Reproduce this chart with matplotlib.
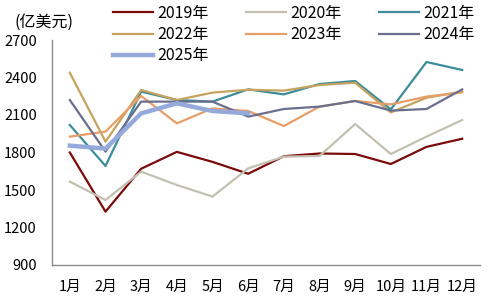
import numpy as np
import matplotlib
matplotlib.use('Agg')
import matplotlib.pyplot as plt

plt.rcParams['font.family'] = ['Noto Sans CJK SC', 'DejaVu Sans']

# 数据 (亿美元)
months = ['1月', '2月', '3月', '4月', '5月', '6月', '7月', '8月', '9月', '10月', '11月', '12月']
y2019 = [1800, 1327, 1670, 1805, 1725, 1630, 1770, 1792, 1788, 1708, 1845, 1910]
y2020 = [1567, 1420, 1647, 1540, 1447, 1673, 1767, 1772, 2028, 1788, 1927, 2060]
y2021 = [2020, 1692, 2287, 2220, 2207, 2305, 2265, 2348, 2372, 2145, 2524, 2460]
y2022 = [2438, 1887, 2300, 2220, 2279, 2302, 2295, 2340, 2358, 2121, 2238, 2287]
y2023 = [1927, 1967, 2252, 2033, 2153, 2132, 2012, 2167, 2212, 2185, 2247, 2281]
y2024 = [2220, 1807, 2207, 2207, 2207, 2087, 2148, 2167, 2212, 2135, 2148, 2305]
y2025 = [1855, 1831, 2113, 2193, 2132, 2113]

series = [
    ('2019年', y2019, '#7B0A0A', 1.6),
    ('2020年', y2020, '#C3C0B2', 1.6),
    ('2021年', y2021, '#3B8D9B', 1.6),
    ('2022年', y2022, '#C6A35E', 1.6),
    ('2023年', y2023, '#E89E68', 1.6),
    ('2024年', y2024, '#6B6F8F', 1.6),
    ('2025年', y2025, '#95AADB', 3.2),
]

fig = plt.figure(figsize=(4.88, 3.01), dpi=100)
ax = fig.add_axes([52/488, 1-265/301, 428/488, 225/301])

x = np.arange(len(months))
lines = {}
for name, vals, color, lw in series:
    ln, = ax.plot(x[:len(vals)], vals, color=color, lw=lw, label=name)
    lines[name] = ln

ax.set_xlim(-0.5, len(months) - 0.5)
ax.set_ylim(900, 2700)
ax.set_yticks(np.arange(900, 2701, 300))
ax.set_xticks(x)
ax.set_xticklabels(months)
ax.tick_params(axis='both', length=0, labelsize=10.5)
ax.tick_params(axis='y', pad=11)
ax.tick_params(axis='x', pad=11)

for s in ['top', 'right']:
    ax.spines[s].set_visible(False)
for s in ['left', 'bottom']:
    ax.spines[s].set_color('#8C8C8C')
    ax.spines[s].set_linewidth(1.0)

fig.text(14/488, 1-22/301, '(亿美元)', fontsize=11.5, va='center', ha='left')

# 图例按行排列
order = ['2019年', '2022年', '2025年', '2020年', '2023年', '2021年', '2024年']
fig.legend([lines[k] for k in order], order, ncol=3, frameon=False,
           loc='upper left', bbox_to_anchor=(113/488, 1-5/301),
           borderpad=0, borderaxespad=0, fontsize=11.5,
           handlelength=2.5, handletextpad=0.3, columnspacing=2.3,
           labelspacing=0.26)

fig.savefig('out.png', dpi=100)
